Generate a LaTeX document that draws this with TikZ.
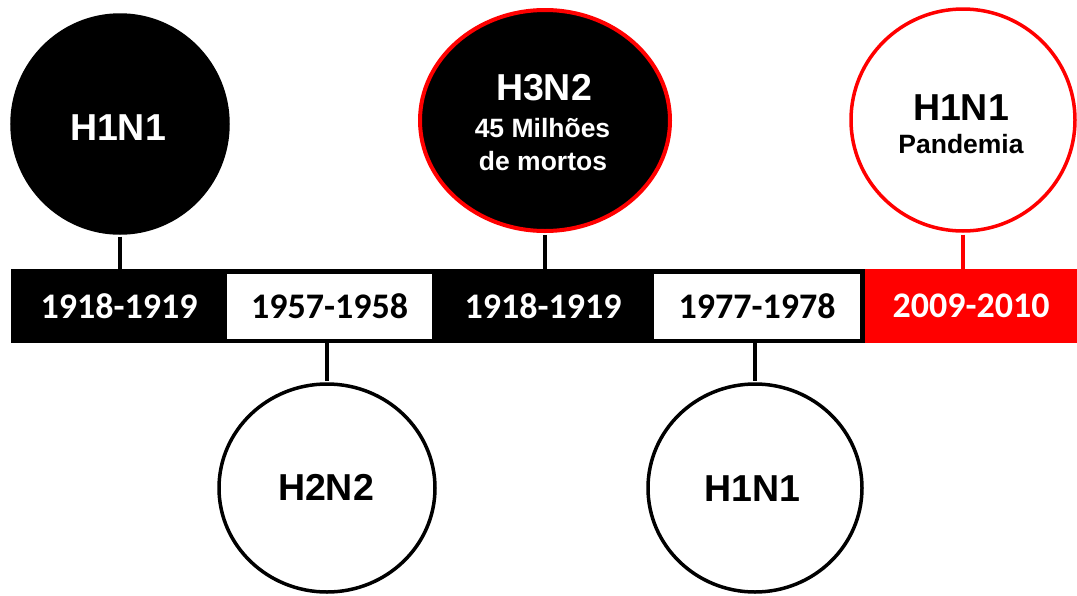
\documentclass[tikz,border=0pt]{standalone}
\usepackage{fontspec}
\setmainfont{Liberation Sans}
\newfontfamily\yearfont{Carlito}
\usetikzlibrary{shapes.geometric}
\definecolor{flured}{RGB}{255,0,0}

\begin{document}
\begin{tikzpicture}[x=1pt,y=-1pt,
  bubble/.style={ellipse, inner sep=0pt, line width=3.5pt},
  bigname/.style={anchor=base, inner sep=0pt, font=\bfseries\fontsize{37.5}{40}\selectfont},
  smallname/.style={anchor=base, inner sep=0pt, font=\bfseries\fontsize{26.5}{30}\selectfont},
  yearbox/.style={rectangle, inner sep=0pt, font=\yearfont\bfseries\fontsize{36}{40}\selectfont},
  stem/.style={line width=4pt, shorten <=1.75pt}]
\useasboundingbox (0,0) rectangle (1077,595);

% timeline bar (black part, also the frame of the white boxes)
\node[fill=black, inner sep=0pt, minimum width=854pt, minimum height=74pt,
      anchor=north west] (bar) at (11,269) {};

% year segments
\node[yearbox, fill=black, text=white, minimum width=216pt, minimum height=74pt] (y1) at (119,306) {1918-1919};
\node[yearbox, fill=white, text=black, minimum width=205pt, minimum height=65pt] (y2) at (329.5,306.5) {1957-1958};
\node[yearbox, fill=black, text=white, minimum width=222pt, minimum height=74pt] (y3) at (543,306) {1918-1919};
\node[yearbox, fill=white, text=black, minimum width=206pt, minimum height=65pt] (y4) at (757,306.5) {1977-1978};
\node[yearbox, fill=flured, text=white, minimum width=212pt, minimum height=74pt] (y5) at (971,306) {2009-2010};

% virus bubbles
\node[bubble, draw=black, fill=black, minimum width=216pt, minimum height=218pt] (c1) at (120,124) {};
\node[bubble, draw=flured, fill=black, line width=4pt, minimum width=250pt, minimum height=221pt] (c3) at (545,120.5) {};
\node[bubble, draw=flured, fill=white, minimum width=224pt, minimum height=222pt] (c5) at (963,120) {};
\node[bubble, draw=black, fill=white, minimum width=216pt, minimum height=208pt] (c2) at (327,488) {};
\node[bubble, draw=black, fill=white, minimum width=214pt, minimum height=208pt] (c4) at (755,488) {};

% stems joining bubbles to the bar
\draw[stem] (c1.south) -- (c1.south |- bar.north);
\draw[stem] (c3.south) -- (c3.south |- bar.north);
\draw[stem, flured] (c5.south) -- (c5.south |- y5.north);
\draw[stem] (c2.north) -- (c2.north |- bar.south);
\draw[stem] (c4.north) -- (c4.north |- bar.south);

% bubble texts
\node[bigname, text=white] (t1) at (118,140) {H1N1};
\node[bigname, text=white] (t3) at (544,100) {H3N2};
\node[smallname, text=white] (t3a) at (542.5,137) {45 Milhões};
\node[smallname, text=white] (t3b) at (543,170) {de mortos};
\node[bigname, text=black] (t5) at (961,120) {H1N1};
\node[smallname, text=black] (t5a) at (961,153) {Pandemia};
\node[bigname, text=black] (t2) at (326,500) {H2N2};
\node[bigname, text=black] (t4) at (752.5,501) {H1N1};
\end{tikzpicture}
\end{document}
